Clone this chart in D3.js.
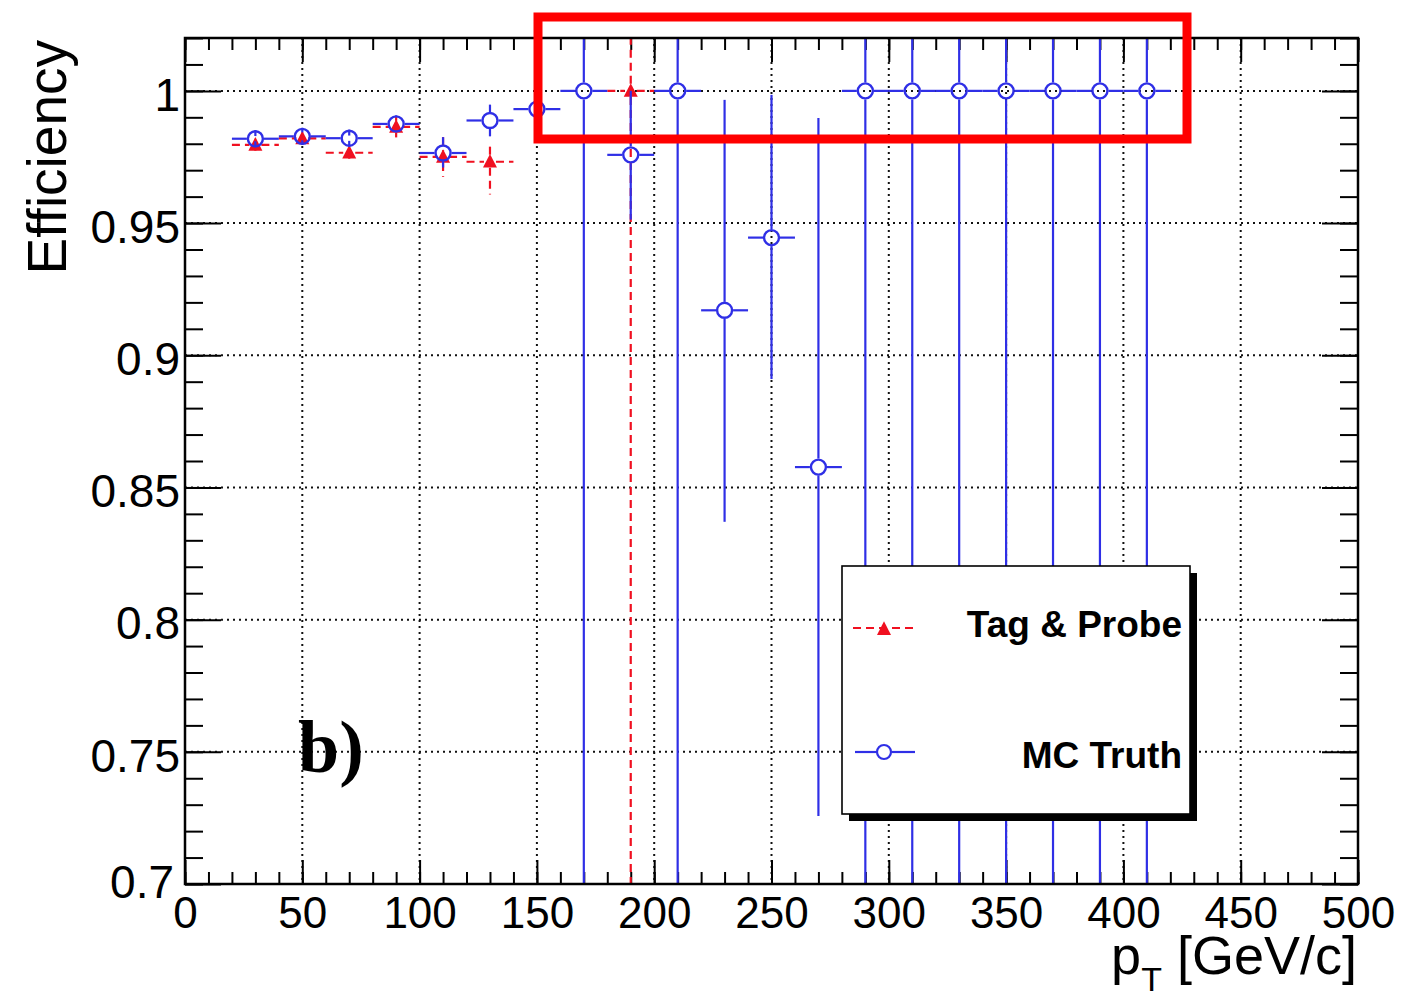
<!DOCTYPE html>
<html>
<head>
<meta charset="utf-8">
<script src="https://cdn.jsdelivr.net/npm/d3@7"></script>
<style>
  body { margin: 0; background: #fff; }
  text { font-family: "Liberation Sans", Arial, sans-serif; }
</style>
</head>
<body>
<svg id="chart" width="1402" height="1002"></svg>
<script>
// MC Truth, bins of 20 GeV/c
const mcPt = [30, 50, 70, 90, 110, 130, 150, 170, 190, 210, 230, 250, 270, 290, 310, 330, 350, 370, 390, 410]
const mcEff = [0.9819, 0.9828, 0.9821, 0.9875, 0.9765, 0.9888, 0.9931, 1, 0.9758, 1, 0.917, 0.9445, 0.8577, 1, 1, 1, 1, 1, 1, 1]
const mcErrLow = [0.001, 0.0015, 0.001, 0.003, 0.0055, 0.006, 0.002, 1, 0.0245, 1, 0.08, 0.0535, 0.132, 1, 1, 1, 1, 1, 1, 1]
const mcErrHigh = [0.001, 0.0015, 0.001, 0.003, 0.006, 0.006, 0.002, 0.05, 0.0242, 0.05, 0.0796, 0.054, 0.132, 0.05, 0.05, 0.05, 0.05, 0.05, 0.05, 0.05]

// Tag & Probe
const tpPt = [30, 50, 70, 90, 110, 130, 190]
const tpEff = [0.9796, 0.982, 0.9766, 0.9864, 0.975, 0.9732, 1]
const tpErrLow = [0.002, 0.002, 0.002, 0.004, 0.0075, 0.0124, 1]
const tpErrHigh = [0.002, 0.002, 0.002, 0.004, 0.0075, 0.0057, 0.05]

const binHalfWidth = 10

const xMajor = [0, 50, 100, 150, 200, 250, 300, 350, 400, 450, 500]
const yMajor = [0.7, 0.75, 0.8, 0.85, 0.9, 0.95, 1]
const yTickLabels = ['0.7', '0.75', '0.8', '0.85', '0.9', '0.95', '1']
const legendLabels = ['Tag & Probe', 'MC Truth']

const blue = '#2f2fe6'
const red = '#f01020'

const svg = d3.select('#chart')
const plotLeft = 185, plotRight = 1358, plotTop = 38, plotBottom = 884

// scales //
const xScale = d3.scaleLinear().domain([0, 500]).range([plotLeft, plotRight])
const yScale = d3.scaleLinear().domain([0.7, 1.02]).range([plotBottom, plotTop])

svg.append('rect').attr('width', 1402).attr('height', 1002).attr('fill', '#fff')

// grid //
const grid = svg.append('g')
    .attr('stroke', '#111')
    .attr('stroke-width', 2)
    .attr('stroke-dasharray', '2 4')
grid.append('g').selectAll('line').data(xMajor.slice(1, -1)).join('line')
    .attr('x1', d => xScale(d)).attr('x2', d => xScale(d))
    .attr('y1', plotTop).attr('y2', plotBottom)
grid.append('g').selectAll('line').data(yMajor.slice(1)).join('line')
    .attr('y1', d => yScale(d)).attr('y2', d => yScale(d))
    .attr('x1', plotLeft).attr('x2', plotRight)

// axes (ROOT style, ticks inside on all sides) //
const xMinor = d3.range(0, 501, 10)
const yMinor = d3.range(70, 103).map(v => v / 100)

function styleAxis(g) {
    g.select('.domain').remove()
    g.selectAll('.tick line').attr('stroke', '#000').attr('stroke-width', 2)
}

svg.append('g').attr('transform', `translate(0,${plotBottom})`)
    .call(d3.axisBottom(xScale).tickValues(xMinor).tickSize(-12).tickFormat(''))
    .call(styleAxis)
const xAxisG = svg.append('g').attr('transform', `translate(0,${plotBottom})`)
    .call(d3.axisBottom(xScale).tickValues(xMajor).tickSize(-24).tickPadding(13).tickFormat(d3.format('d')))
    .call(styleAxis)
xAxisG.selectAll('text')
    .style('font-size', '44px')
    .style('font-family', '"Liberation Sans", Arial, sans-serif')
    .attr('fill', '#000')

svg.append('g').attr('transform', `translate(0,${plotTop})`)
    .call(d3.axisTop(xScale).tickValues(xMinor).tickSize(-12).tickFormat(''))
    .call(styleAxis)
svg.append('g').attr('transform', `translate(0,${plotTop})`)
    .call(d3.axisTop(xScale).tickValues(xMajor).tickSize(-24).tickFormat(''))
    .call(styleAxis)

svg.append('g').attr('transform', `translate(${plotLeft},0)`)
    .call(d3.axisLeft(yScale).tickValues(yMinor).tickSize(-18).tickFormat(''))
    .call(styleAxis)
const yAxisG = svg.append('g').attr('transform', `translate(${plotLeft},0)`)
    .call(d3.axisLeft(yScale).tickValues(yMajor).tickSize(-36).tickPadding(5)
        .tickFormat((d, i) => yTickLabels[i]))
    .call(styleAxis)
yAxisG.selectAll('text')
    .style('font-size', '46px')
    .style('font-family', '"Liberation Sans", Arial, sans-serif')
    .attr('fill', '#000')
    .attr('dy', '0.42em')
// lowest label sits a little left of the "0" of the x axis
yAxisG.selectAll('text').filter(d => d === 0.7).attr('x', -11).attr('dy', '0.3em')

svg.append('g').attr('transform', `translate(${plotRight},0)`)
    .call(d3.axisRight(yScale).tickValues(yMinor).tickSize(-18).tickFormat(''))
    .call(styleAxis)
svg.append('g').attr('transform', `translate(${plotRight},0)`)
    .call(d3.axisRight(yScale).tickValues(yMajor).tickSize(-36).tickFormat(''))
    .call(styleAxis)

// data //
svg.append('clipPath').attr('id', 'plot-clip')
    .append('rect').attr('x', plotLeft).attr('y', plotTop)
    .attr('width', plotRight - plotLeft).attr('height', plotBottom - plotTop)

const plot = svg.append('g').attr('clip-path', 'url(#plot-clip)')

// draws error bars leaving a gap around the marker, like ROOT does
function drawErrors(g, pts, eff, lo, hi, color, dash, gap) {
    const data = pts.map((p, i) => ({ x: p, y: eff[i], lo: lo[i], hi: hi[i] }))
    const segs = []
    data.forEach(d => {
        const cx = xScale(d.x), cy = yScale(d.y)
        segs.push([xScale(d.x - binHalfWidth), cy, cx - gap, cy])
        segs.push([cx + gap, cy, xScale(d.x + binHalfWidth), cy])
        segs.push([cx, yScale(d.y + d.hi), cx, cy - gap])
        segs.push([cx, cy + gap, cx, yScale(d.y - d.lo)])
    })
    g.append('g').selectAll('line').data(segs).join('line')
        .attr('x1', s => s[0]).attr('y1', s => s[1])
        .attr('x2', s => s[2]).attr('y2', s => s[3])
        .attr('stroke', color)
        .attr('stroke-width', 2.2)
        .attr('stroke-dasharray', dash)
    return data
}

function triangle(cx, cy, s) {
    return `M${cx},${cy - s * 0.55}L${cx + s * 0.5},${cy + s * 0.42}L${cx - s * 0.5},${cy + s * 0.42}Z`
}

// Tag & Probe first, MC Truth on top
const tpData = drawErrors(plot, tpPt, tpEff, tpErrLow, tpErrHigh, red, '8 5', 6)
plot.append('g').selectAll('path').data(tpData).join('path')
    .attr('d', d => triangle(xScale(d.x), yScale(d.y), 14))
    .attr('fill', red)

const mcData = drawErrors(plot, mcPt, mcEff, mcErrLow, mcErrHigh, blue, null, 8.5)
plot.append('g').selectAll('circle').data(mcData).join('circle')
    .attr('cx', d => xScale(d.x))
    .attr('cy', d => yScale(d.y))
    .attr('r', 7.5)
    .attr('fill', 'none')
    .attr('stroke', blue)
    .attr('stroke-width', 2.4)

// frame //
svg.append('rect')
    .attr('x', plotLeft).attr('y', plotTop)
    .attr('width', plotRight - plotLeft).attr('height', plotBottom - plotTop)
    .attr('fill', 'none').attr('stroke', '#000').attr('stroke-width', 2.5)

// titles //
svg.append('text')
    .attr('transform', 'translate(66,40) rotate(-90)')
    .attr('text-anchor', 'end')
    .style('font-size', '55px')
    .text('Efficiency')

const xTitle = svg.append('text')
    .attr('x', 1357).attr('y', 974)
    .attr('text-anchor', 'end')
    .style('font-size', '54px')
xTitle.append('tspan').text('p')
xTitle.append('tspan').attr('dy', 17).style('font-size', '34px').text('T')
xTitle.append('tspan').attr('dy', -17).text(' [GeV/c]')

svg.append('text')
    .attr('x', 298).attr('y', 772)
    .style('font-family', '"Liberation Serif", "Times New Roman", serif')
    .style('font-weight', 'bold')
    .style('font-size', '74px')
    .text('b)')

// legend //
const legend = svg.append('g')
legend.append('rect')
    .attr('x', 849).attr('y', 573).attr('width', 348).attr('height', 248)
    .attr('fill', '#000')
legend.append('rect')
    .attr('x', 842).attr('y', 566).attr('width', 348).attr('height', 248)
    .attr('fill', '#fff').attr('stroke', '#000').attr('stroke-width', 1.6)

const legendY = [628, 752]
legend.append('line')
    .attr('x1', 853).attr('x2', 916).attr('y1', legendY[0]).attr('y2', legendY[0])
    .attr('stroke', red).attr('stroke-width', 2).attr('stroke-dasharray', '8 5')
legend.append('path')
    .attr('d', triangle(884, legendY[0] + 1, 14))
    .attr('fill', red)
legend.append('line')
    .attr('x1', 855).attr('x2', 877).attr('y1', legendY[1]).attr('y2', legendY[1])
    .attr('stroke', blue).attr('stroke-width', 2.2)
legend.append('line')
    .attr('x1', 892).attr('x2', 915).attr('y1', legendY[1]).attr('y2', legendY[1])
    .attr('stroke', blue).attr('stroke-width', 2.2)
legend.append('circle')
    .attr('cx', 884).attr('cy', legendY[1]).attr('r', 7)
    .attr('fill', 'none').attr('stroke', blue).attr('stroke-width', 2.2)

legend.selectAll('.lbl').data(legendLabels).join('text')
    .attr('x', 1182)
    .attr('y', (d, i) => legendY[i] + 9 + i * 7)
    .attr('text-anchor', 'end')
    .style('font-size', '37px')
    .style('font-weight', 'bold')
    .text(d => d)

// highlight box //
svg.append('rect')
    .attr('x', 538).attr('y', 17).attr('width', 649).attr('height', 122)
    .attr('fill', 'none').attr('stroke', '#ff0000').attr('stroke-width', 9)
</script>
</body>
</html>
